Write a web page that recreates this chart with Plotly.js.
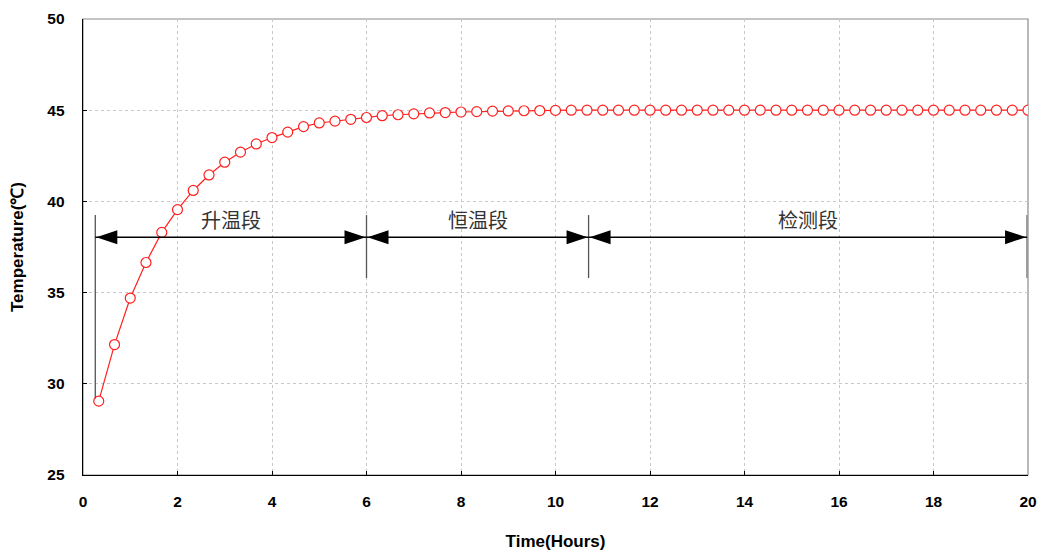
<!DOCTYPE html>
<html>
<head>
<meta charset="utf-8">
<script src="https://cdn.plot.ly/plotly-3.0.1.min.js"></script>
<style>html,body{margin:0;padding:0;background:#fff;}#chart{width:1040px;height:551px;}</style>
</head>
<body>
<div id="chart"></div>
<script>
// Time (hours), one reading every 20 minutes
const timeHours = [
  0.333, 0.667, 1.0, 1.333, 1.667, 2.0, 2.333, 2.667, 3.0, 3.333,
  3.667, 4.0, 4.333, 4.667, 5.0, 5.333, 5.667, 6.0, 6.333, 6.667,
  7.0, 7.333, 7.667, 8.0, 8.333, 8.667, 9.0, 9.333, 9.667, 10.0,
  10.333, 10.667, 11.0, 11.333, 11.667, 12.0, 12.333, 12.667, 13.0, 13.333,
  13.667, 14.0, 14.333, 14.667, 15.0, 15.333, 15.667, 16.0, 16.333, 16.667,
  17.0, 17.333, 17.667, 18.0, 18.333, 18.667, 19.0, 19.333, 19.667, 20.0
];
// Temperature (℃)
const temperature = [
  29.05, 32.15, 34.70, 36.65, 38.30, 39.55, 40.60, 41.45, 42.15, 42.70,
  43.15, 43.50, 43.80, 44.10, 44.30, 44.40, 44.50, 44.60, 44.70, 44.75,
  44.80, 44.85, 44.87, 44.90, 44.92, 44.95, 44.96, 44.97, 44.98, 44.99,
  45.00, 45.00, 45.00, 45.00, 45.00, 45.00, 45.00, 45.00, 45.00, 45.00,
  45.00, 45.00, 45.00, 45.00, 45.00, 45.00, 45.00, 45.00, 45.00, 45.00,
  45.00, 45.00, 45.00, 45.00, 45.00, 45.00, 45.00, 45.00, 45.00, 45.00
];
// Phase boundaries (hours) and names
const phaseBounds = [0.26, 6.0, 10.7, 19.98];
const phaseNames = ['升温段', '恒温段', '检测段'];
const boundTop = 39.25;
const boundBottoms = [29.2, 35.8, 35.8, 35.8];
const arrowLevel = 38.04;
const labelLevel = 39.0;

const xTicks = [0, 2, 4, 6, 8, 10, 12, 14, 16, 18, 20];
const yTicks = [25, 30, 35, 40, 45, 50];

const shapes = [];
// frame (top/right in gray)
shapes.push({type:'rect', xref:'paper', yref:'paper', x0:0, x1:1, y0:0, y1:1,
  line:{color:'#8a8a8a', width:1.2}, layer:'below'});
// vertical boundary lines
phaseBounds.forEach((b, i) => {
  const last = i === phaseBounds.length - 1;
  shapes.push({type:'line', xref:'x', yref:'y', x0:b, x1:b, y0:boundBottoms[i], y1:boundTop,
    line:{color: last ? '#9a9a9a' : '#555555', width: last ? 2 : 1.3}});
});
// horizontal arrows and arrowheads
for (let i = 0; i < phaseNames.length; i++) {
  const a = phaseBounds[i], b = phaseBounds[i+1];
  shapes.push({type:'line', xref:'x', yref:'y', x0:a, x1:b, y0:arrowLevel, y1:arrowLevel,
    line:{color:'#000', width:1.5}});
  shapes.push({type:'path', xref:'x', yref:'y', xsizemode:'pixel', ysizemode:'pixel',
    xanchor:a, yanchor:arrowLevel, path:'M1,0L22,7L22,-7Z', fillcolor:'#000', line:{width:0}});
  shapes.push({type:'path', xref:'x', yref:'y', xsizemode:'pixel', ysizemode:'pixel',
    xanchor:b, yanchor:arrowLevel, path:'M-1,0L-22,7L-22,-7Z', fillcolor:'#000', line:{width:0}});
}

const annotations = phaseNames.map((name, i) => ({
  x: (phaseBounds[i] + phaseBounds[i+1]) / 2, y: labelLevel, xref:'x', yref:'y',
  text: name, showarrow:false,
  font:{family:'"Noto Sans CJK SC", sans-serif', size:20, color:'#333'}
}));

const trace = {
  x: timeHours, y: temperature, type:'scatter', mode:'lines+markers',
  line:{color:'#ff2020', width:1.2},
  marker:{symbol:'circle', size:10, color:'#ffffff', line:{color:'#ff2020', width:1.2}},
  hoverinfo:'skip'
};

const tickFont = {family:'"Liberation Sans", Arial, sans-serif', size:15.5, color:'#000', weight:'bold'};
const titleFont = {family:'"Liberation Sans", Arial, sans-serif', size:17, color:'#000', weight:'bold'};

const layout = {
  width:1040, height:551,
  margin:{l:83, r:12, t:19, b:76},
  paper_bgcolor:'#fff', plot_bgcolor:'#fff',
  showlegend:false,
  xaxis:{
    range:[0,20], tickvals:xTicks, ticktext:xTicks.map(String),
    showgrid:true, gridcolor:'#c8c8c8', griddash:'3px,3px', gridwidth:1,
    zeroline:false, showline:true, linecolor:'#000', linewidth:1.3,
    ticks:'inside', ticklen:4, tickcolor:'#000', ticklabelstandoff:12,
    tickfont:tickFont,
    title:{text:'Time(Hours)', standoff:27, font:titleFont}
  },
  yaxis:{
    range:[25,50], tickvals:yTicks, ticktext:yTicks.map(String),
    showgrid:true, gridcolor:'#c8c8c8', griddash:'3px,3px', gridwidth:1,
    zeroline:false, showline:true, linecolor:'#000', linewidth:1.3,
    ticks:'inside', ticklen:4, tickcolor:'#000', ticklabelstandoff:14,
    tickfont:tickFont,
    title:{text:'Temperature(℃)', standoff:19, font:titleFont}
  },
  shapes: shapes,
  annotations: annotations
};

Plotly.newPlot('chart', [trace], layout, {displayModeBar:false, staticPlot:true});
</script>
</body>
</html>
